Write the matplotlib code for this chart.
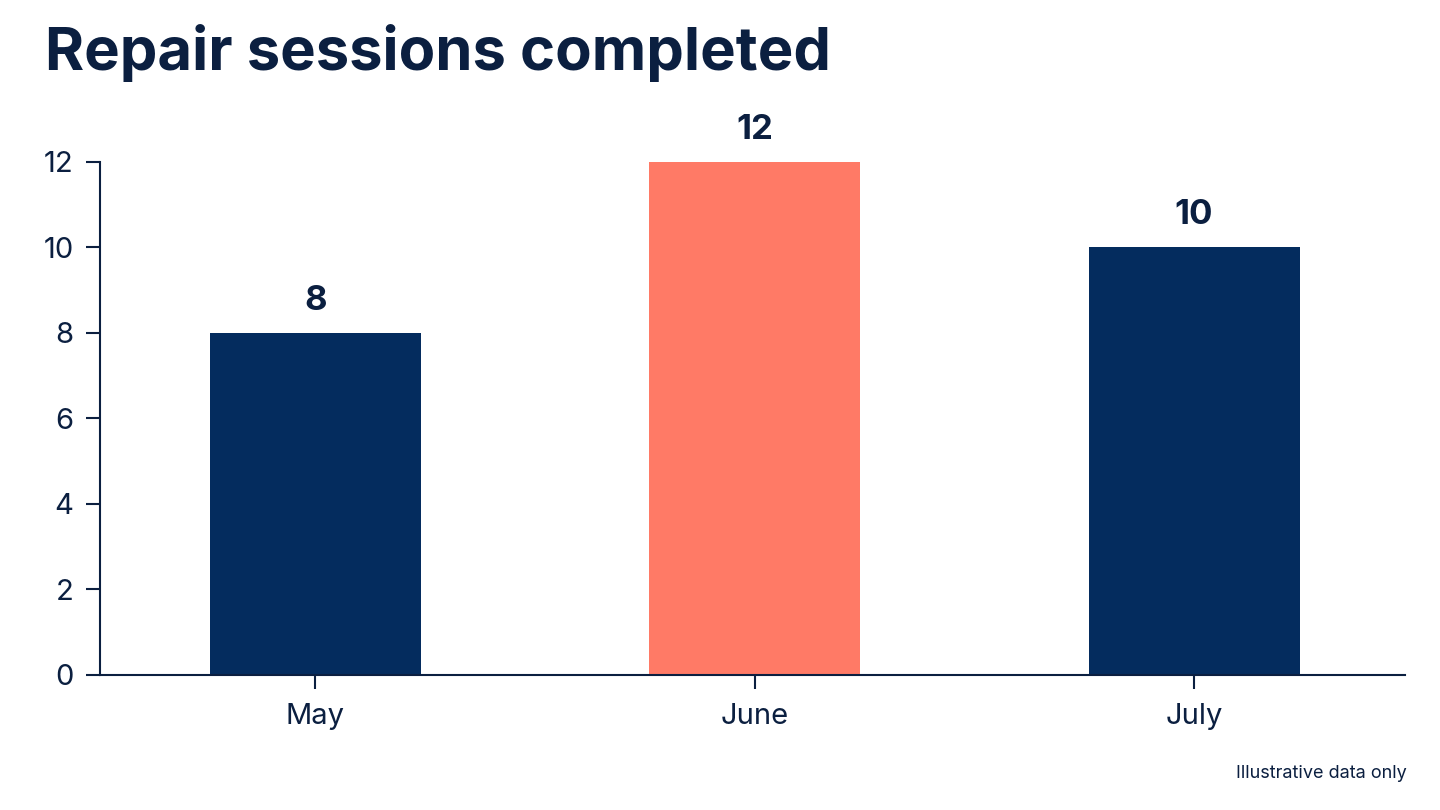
import matplotlib.pyplot as plt

months = ['May', 'June', 'July']
sessions = [8, 12, 10]
bar_colors = ['#042C5E', '#FF7A66', '#042C5E']
yticks = [0, 2, 4, 6, 8, 10, 12]

ink = '#0B1F40'
plt.rcParams['font.family'] = ['Inter', 'DejaVu Sans']

fig = plt.figure(figsize=(14.4, 8.1), dpi=100)
ax = fig.add_axes([0.0694, 0.1667, 0.9063, 0.6333])

x = range(len(months))
bars = ax.bar(x, sessions, width=0.48, color=bar_colors, zorder=2)

# value labels above the bars
for b, v in zip(bars, sessions):
    ax.text(b.get_x() + b.get_width() / 2, v + 0.38, str(v), ha='center', va='bottom',
            fontsize=25, fontweight='bold', color=ink, clip_on=False)

ax.set_xlim(-0.49, 2.48)
ax.set_ylim(0, 12)
ax.set_xticks(list(x))
ax.set_xticklabels(months)
ax.set_yticks(yticks)

for s in ['top', 'right']:
    ax.spines[s].set_visible(False)
for s in ['left', 'bottom']:
    ax.spines[s].set_color(ink)
    ax.spines[s].set_linewidth(1.5)

ax.tick_params(axis='both', colors=ink, labelsize=21, length=10, width=1.5)
ax.tick_params(axis='x', pad=10)
ax.tick_params(axis='y', pad=9)

fig.text(0.031, 0.935, 'Repair sessions completed', fontsize=43, fontweight='bold',
         color=ink, va='center', ha='left')
fig.text(0.977, 0.045, 'Illustrative data only', fontsize=13, color=ink,
         ha='right', va='center')

fig.savefig('out.png', dpi=100, facecolor='white')
